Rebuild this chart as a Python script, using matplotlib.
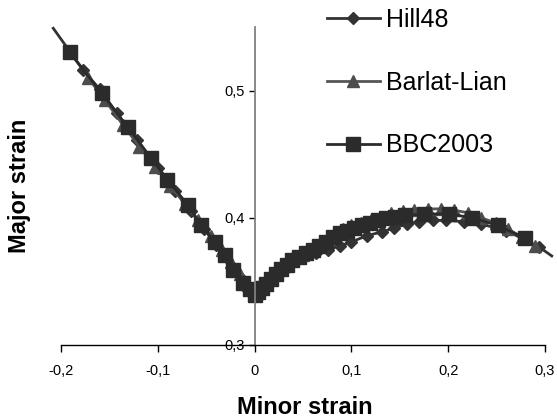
import matplotlib.pyplot as plt

plt.rcParams['font.family'] = ['Liberation Sans', 'DejaVu Sans']

# Hill48 (diamonds); first and last points are line ends without marker
hill_x = [-0.208, -0.177, -0.160, -0.142, -0.121, -0.100, -0.082, -0.066, -0.052,
          -0.040, -0.030, -0.021, -0.013, -0.006, 0.0, 0.004, 0.009, 0.015, 0.022,
          0.030, 0.040, 0.051, 0.063, 0.076, 0.088, 0.100, 0.116, 0.132, 0.144,
          0.157, 0.170, 0.184, 0.198, 0.216, 0.234, 0.260, 0.294, 0.307]
hill_y = [0.549, 0.516, 0.501, 0.482, 0.461, 0.439, 0.421, 0.405, 0.391,
          0.379, 0.369, 0.360, 0.352, 0.345, 0.339, 0.342, 0.346, 0.351, 0.356,
          0.361, 0.365, 0.369, 0.372, 0.375, 0.378, 0.381, 0.386, 0.389, 0.392,
          0.395, 0.397, 0.398, 0.398, 0.397, 0.395, 0.390, 0.377, 0.370]

# Barlat-Lian (triangles)
barlat_x = [-0.172, -0.155, -0.136, -0.119, -0.103, -0.087, -0.072, -0.058, -0.045,
            -0.034, -0.024, -0.015, -0.007, 0.0, 0.006, 0.013, 0.021, 0.030, 0.040,
            0.050, 0.060, 0.071, 0.082, 0.091, 0.100, 0.110, 0.120, 0.130, 0.141,
            0.153, 0.165, 0.179, 0.193, 0.206, 0.220, 0.234, 0.249, 0.262, 0.276,
            0.290]
barlat_y = [0.510, 0.493, 0.473, 0.456, 0.440, 0.425, 0.411, 0.398, 0.386,
            0.375, 0.365, 0.356, 0.347, 0.340, 0.345, 0.350, 0.356, 0.362, 0.367,
            0.371, 0.375, 0.381, 0.387, 0.391, 0.394, 0.396, 0.398, 0.401, 0.404,
            0.405, 0.406, 0.407, 0.407, 0.406, 0.404, 0.400, 0.396, 0.391, 0.385,
            0.378]

# BBC2003 (squares)
bbc_x = [-0.191, -0.158, -0.131, -0.107, -0.090, -0.069, -0.055, -0.041, -0.031,
         -0.022, -0.012, -0.005, 0.0, 0.004, 0.008, 0.012, 0.017, 0.022, 0.027,
         0.033, 0.039, 0.046, 0.053, 0.060, 0.067, 0.074, 0.081, 0.088, 0.095,
         0.103, 0.111, 0.119, 0.127, 0.136, 0.145, 0.155, 0.175, 0.201, 0.225,
         0.251, 0.279]
bbc_y = [0.530, 0.498, 0.471, 0.447, 0.430, 0.410, 0.394, 0.381, 0.371,
         0.359, 0.349, 0.344, 0.339, 0.342, 0.345, 0.348, 0.352, 0.356, 0.360,
         0.363, 0.367, 0.369, 0.372, 0.375, 0.378, 0.381, 0.385, 0.388, 0.390,
         0.392, 0.394, 0.396, 0.398, 0.400, 0.401, 0.402, 0.403, 0.403, 0.400,
         0.394, 0.384]

x_ticks = [-0.2, -0.1, 0.0, 0.1, 0.2, 0.3]
x_labels = ['-0,2', '-0,1', '0', '0,1', '0,2', '0,3']
y_ticks = [0.3, 0.4, 0.5]
y_labels = ['0,3', '0,4', '0,5']

fig = plt.figure(figsize=(5.57, 4.18), dpi=100)
ax = fig.add_axes([61 / 557, 1 - 345 / 418, 484 / 557, 318 / 418])

ax.plot(hill_x, hill_y, color='#333333', lw=2, marker='D', ms=6,
        mfc='#333333', mec='#333333', markevery=slice(1, -1),
        clip_on=False, label='Hill48')
ax.plot(barlat_x, barlat_y, color='#555555', lw=2, marker='^', ms=9,
        mfc='#4d4d4d', mec='#4d4d4d', clip_on=False, label='Barlat-Lian')
ax.plot(bbc_x, bbc_y, color='#2b2b2b', lw=2, marker='s', ms=10,
        mfc='#2b2b2b', mec='#2b2b2b', clip_on=False, label='BBC2003')

ax.set_xlim(-0.2, 0.3)
ax.set_ylim(0.3, 0.55)

ax.spines['top'].set_visible(False)
ax.spines['right'].set_visible(False)
ax.spines['left'].set_position(('data', 0))
ax.spines['left'].set_color('#808080')
ax.spines['left'].set_linewidth(1.3)
ax.spines['bottom'].set_linewidth(1.0)

ax.set_xticks(x_ticks)
ax.set_xticklabels(x_labels, fontsize=10.5)
ax.set_yticks(y_ticks)
ax.set_yticklabels(y_labels, fontsize=10.5)
ax.tick_params(axis='x', direction='out', length=5, width=1, pad=9)
ax.tick_params(axis='y', direction='out', length=4, width=1, pad=3)

fig.text(305 / 557, 1 - 407 / 418, 'Minor strain', ha='center', va='center',
         fontsize=17, fontweight='bold')
fig.text(20 / 557, 1 - 186 / 418, 'Major strain', ha='center', va='center',
         rotation=90, fontsize=17, fontweight='bold')

ax.legend(loc='upper left', bbox_to_anchor=(327 / 557, 1 - 8 / 418),
          bbox_transform=fig.transFigure, frameon=False, fontsize=18,
          borderpad=0, borderaxespad=0, handlelength=2.1, handletextpad=0.25,
          labelspacing=1.55, numpoints=1)

fig.savefig('out.png', dpi=100)
